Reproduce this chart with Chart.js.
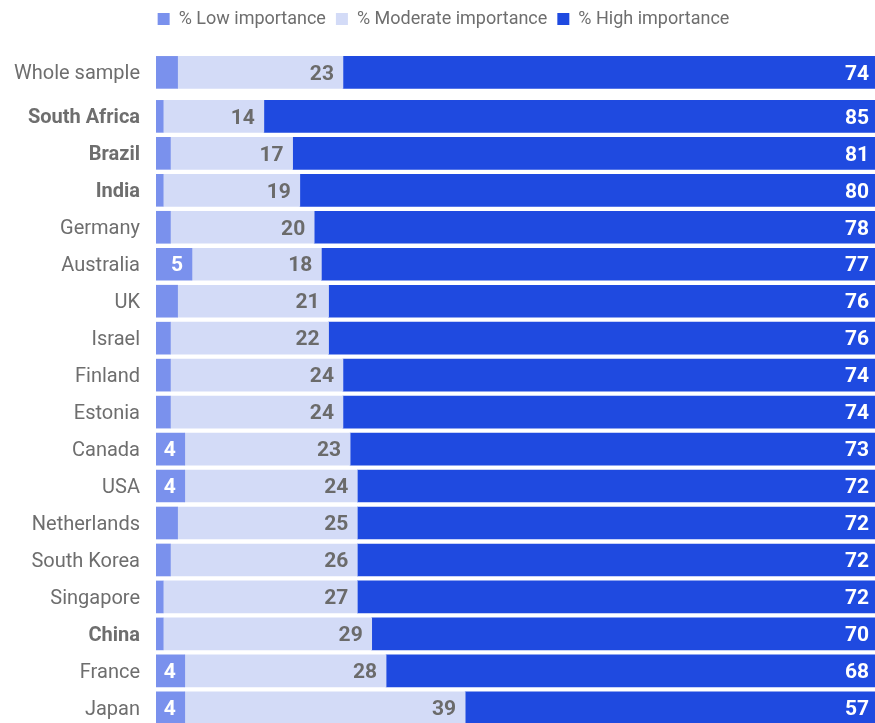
<!DOCTYPE html>
<html>
<head>
<meta charset="utf-8">
<script src="https://cdn.jsdelivr.net/npm/chart.js@4.4.1/dist/chart.umd.min.js"></script>
<style>
  html, body { margin: 0; padding: 0; background: #fff; }
  #wrap { width: 875px; height: 723px; }
</style>
</head>
<body>
<div id="wrap"><canvas id="chart"></canvas></div>
<script>
// chart data
const countries = ['Whole sample', 'South Africa', 'Brazil', 'India', 'Germany', 'Australia', 'UK', 'Israel',
    'Finland', 'Estonia', 'Canada', 'USA', 'Netherlands', 'South Korea', 'Singapore', 'China', 'France', 'Japan'];
const boldCountries = ['South Africa', 'Brazil', 'India', 'China'];
const lowImportance = [3, 1, 2, 1, 2, 5, 3, 2, 2, 2, 4, 4, 3, 2, 1, 1, 4, 4];
const moderateImportance = [23, 14, 17, 19, 20, 18, 21, 22, 24, 24, 23, 24, 25, 26, 27, 29, 28, 39];
const highImportance = [74, 85, 81, 80, 78, 77, 76, 76, 74, 74, 73, 72, 72, 72, 72, 70, 68, 57];
const seriesNames = ['% Low importance', '% Moderate importance', '% High importance'];

// row positions: small extra gap after the whole sample row
const rowPos = countries.map((c, i) => i === 0 ? 0 : i + 0.19);

const colors = ['#7a91ed', '#d3dbf7', '#1f4ae0'];
const labelColors = ['#ffffff', '#6b6b6b', '#ffffff'];
const greyText = '#6e6e6e';

function toPoints(values) {
    return values.map((v, i) => ({ x: v, y: rowPos[i] }));
}

// draw the numbers inside the bars
const valueLabels = {
    id: 'valueLabels',
    afterLayout(chart) {
        // center the legend a bit to the right, like the original
        chart.legend.left = 12;
    },
    afterDatasetsDraw(chart) {
        const ctx = chart.ctx;
        ctx.save();
        ctx.font = 'bold 21px Roboto, "Liberation Sans", sans-serif';
        ctx.textAlign = 'right';
        ctx.textBaseline = 'middle';
        chart.data.datasets.forEach((ds, di) => {
            const meta = chart.getDatasetMeta(di);
            meta.data.forEach((bar, i) => {
                const v = ds.data[i].x;
                if (di === 0 && v < 4) return;
                ctx.fillStyle = labelColors[di];
                const pad = di === 2 ? 6 : 9;
                ctx.fillText(String(v), bar.x - pad, bar.y + 2);
            });
        });
        ctx.restore();
    }
};

const datasets = [lowImportance, moderateImportance, highImportance].map((vals, i) => ({
    label: seriesNames[i],
    data: toPoints(vals),
    backgroundColor: colors[i],
    borderWidth: 0,
    barThickness: 32
}));

new Chart(document.getElementById('chart'), {
    type: 'bar',
    data: { datasets },
    plugins: [valueLabels],
    options: {
        indexAxis: 'y',
        responsive: true,
        maintainAspectRatio: false,
        animation: false,
        layout: { padding: 0 },
        plugins: {
            tooltip: { enabled: false },
            legend: {
                position: 'top',
                labels: {
                    boxWidth: 12,
                    boxHeight: 12,
                    padding: 10,
                    color: greyText,
                    font: { family: 'Roboto, "Liberation Sans", sans-serif', size: 18 }
                }
            }
        },
        scales: {
            x: {
                stacked: true,
                display: false,
                min: 0,
                max: 100
            },
            y: {
                type: 'linear',
                stacked: true,
                reverse: true,
                offset: false,
                min: -0.93,
                max: 17.6,
                grid: { display: false, drawTicks: false },
                border: { display: false },
                afterFit: scale => {
                    scale.width = 156;
                    scale.paddingTop = 0;
                    scale.paddingBottom = 0;
                },
                afterBuildTicks: scale => {
                    scale.ticks = rowPos.map(v => ({ value: v }));
                },
                ticks: {
                    padding: 16,
                    labelOffset: 2,
                    color: greyText,
                    autoSkip: false,
                    font: c => ({
                        family: 'Roboto, "Liberation Sans", sans-serif',
                        size: 20,
                        weight: boldCountries.includes(countries[c.index]) ? 'bold' : 'normal'
                    }),
                    callback: (value, index) => countries[index]
                }
            }
        }
    }
});
</script>
</body>
</html>
